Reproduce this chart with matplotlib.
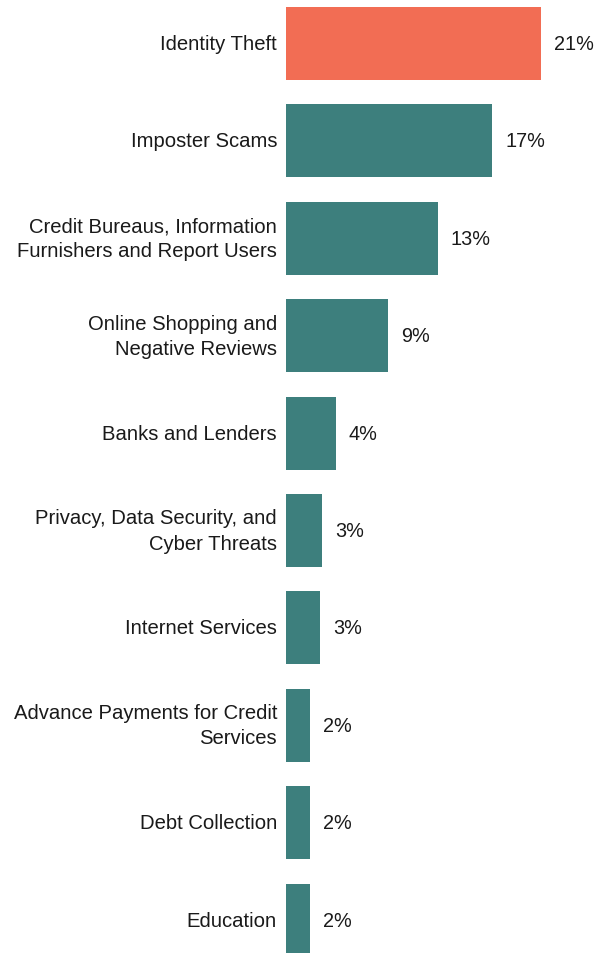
import matplotlib
matplotlib.use("Agg")
import matplotlib.pyplot as plt

categories = [
    "Identity Theft",
    "Imposter Scams",
    "Credit Bureaus, Information\nFurnishers and Report Users",
    "Online Shopping and\nNegative Reviews",
    "Banks and Lenders",
    "Privacy, Data Security, and\nCyber Threats",
    "Internet Services",
    "Advance Payments for Credit\nServices",
    "Debt Collection",
    "Education",
]
values = [21.0, 17.0, 12.5, 8.4, 4.1, 3.0, 2.8, 2.0, 2.0, 2.0]
value_labels = ["21%", "17%", "13%", "9%", "4%", "3%", "3%", "2%", "2%", "2%"]

highlight = "#F26D54"
teal = "#3D7F7D"
colors = [highlight] + [teal] * (len(categories) - 1)

fig = plt.figure(figsize=(5.95, 9.54), dpi=100)
left = 286 / 595
ax = fig.add_axes([left, 0, 1 - left, 1])

pos = list(range(len(categories)))
bar_h = 0.75
ax.barh(pos, values, height=bar_h, color=colors)

# vertical scale: pitch of ~97.4 px per bar, first bar starts 8 px from top
px_per_unit = 97.4
top = -bar_h / 2 - 8 / px_per_unit
ax.set_ylim(top + 954 / px_per_unit, top)
ax.set_xlim(0, (595 - 286) / 12.14)

fonts = ["Liberation Sans", "DejaVu Sans"]
for p, v, lab in zip(pos, values, value_labels):
    ax.text(v + 1.05, p, lab, va="center", ha="left", fontsize=14.3,
            family=fonts, color="#1a1a1a")

for p, cat in zip(pos, categories):
    ax.text(-0.74, p, cat, va="center", ha="right", fontsize=14.6,
            family=fonts, color="#1a1a1a", linespacing=1.42)

ax.set_xticks([])
ax.set_yticks([])
for s in ax.spines.values():
    s.set_visible(False)

fig.savefig("out.png", dpi=100)
